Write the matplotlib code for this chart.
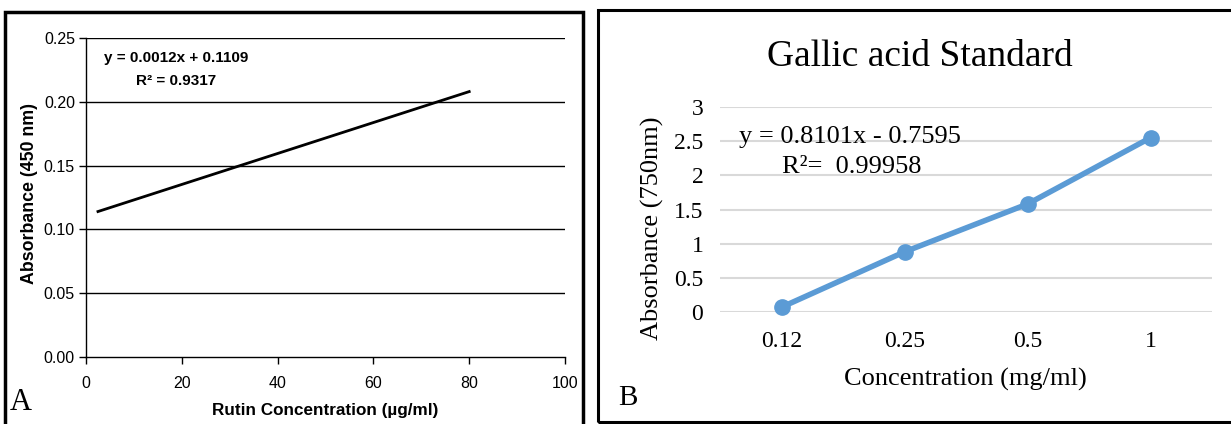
import matplotlib
matplotlib.use("Agg")
import matplotlib.pyplot as plt
from matplotlib.patches import Rectangle

# ---- Panel A data ----
rutin_conc = [2.5, 80]
rutin_abs = [0.114, 0.208]
a_xticks = [0, 20, 40, 60, 80, 100]
a_yticks = [0.00, 0.05, 0.10, 0.15, 0.20, 0.25]
a_eq = "y = 0.0012x + 0.1109"
a_r2 = "R² = 0.9317"

# ---- Panel B data ----
gallic_conc_labels = ["0.12", "0.25", "0.5", "1"]
gallic_abs = [0.07, 0.88, 1.58, 2.55]
b_yticks = [0, 0.5, 1, 1.5, 2, 2.5, 3]
b_ytick_labels = ["0", "0.5", "1", "1.5", "2", "2.5", "3"]
b_eq = "y = 0.8101x - 0.7595"
b_r2 = "R²=  0.99958"

W, H = 1231, 424
fig = plt.figure(figsize=(W / 100, H / 100), dpi=100)

def fx(px):
    return px / W

def fy(py):
    return 1 - py / H

# Borders
fig.patches.append(Rectangle((fx(5), fy(430)), fx(583) - fx(5), fy(12) - fy(430),
                             transform=fig.transFigure, fill=False, lw=2.5, ec='black'))
fig.patches.append(Rectangle((fx(598), fy(422)), fx(1240) - fx(598), fy(10) - fy(422),
                             transform=fig.transFigure, fill=False, lw=2.2, ec='black'))

# ---- Panel A ----
axA = fig.add_axes([fx(86), fy(357), fx(565) - fx(86), fy(38) - fy(357)])
axA.plot(rutin_conc, rutin_abs, color='black', lw=2.0)
axA.set_xlim(0, 100)
axA.set_ylim(0, 0.25)
axA.set_xticks(a_xticks)
axA.set_yticks(a_yticks)
axA.set_yticklabels([f"{v:.2f}" for v in a_yticks])
for v in a_yticks[1:]:
    axA.axhline(v, color='black', lw=1.0, zorder=0)
for s in ['top', 'right']:
    axA.spines[s].set_visible(False)
axA.spines['left'].set_linewidth(1.0)
axA.spines['bottom'].set_linewidth(1.0)
axA.tick_params(direction='out', length=5, width=1.0, labelsize=11.5,
                labelfontfamily='Liberation Sans')
axA.tick_params(axis='x', pad=9)
axA.tick_params(axis='y', pad=3)
axA.set_xlabel("Rutin Concentration (µg/ml)", fontfamily='Liberation Sans',
               fontweight='bold', fontsize=12.3)
axA.xaxis.set_label_coords((325 - 86) / (565 - 86), -(403 - 357) / (357 - 38))
axA.set_ylabel("Absorbance (450 nm)", fontfamily='Liberation Sans',
               fontweight='bold', fontsize=12.8)
axA.yaxis.set_label_coords(-(86 - 38) / (565 - 86), (357 - 194) / (357 - 38))
axA.text(0.0385, 0.937, a_eq, transform=axA.transAxes, fontfamily='Liberation Sans',
         fontweight='bold', fontsize=11, ha='left', va='center')
axA.text(0.104, 0.865, a_r2, transform=axA.transAxes, fontfamily='Liberation Sans',
         fontweight='bold', fontsize=11, ha='left', va='center')
fig.text(fx(10), fy(402), "A", fontfamily='Liberation Serif', fontsize=22,
         ha='left', va='center')

# ---- Panel B ----
axB = fig.add_axes([fx(720), fy(312), fx(1212) - fx(720), fy(107) - fy(312)])
xpos = list(range(len(gallic_conc_labels)))
axB.plot(xpos, gallic_abs, color='#5b9bd5', lw=4, marker='o', markersize=11,
         solid_capstyle='round', zorder=3, clip_on=False)
axB.set_xlim(-0.5, len(gallic_conc_labels) - 0.5)
axB.set_ylim(0, 3)
axB.set_yticks(b_yticks)
axB.set_yticklabels(b_ytick_labels)
axB.set_xticks(xpos)
axB.set_xticklabels(gallic_conc_labels)
axB.grid(axis='y', color='#d9d9d9', lw=1.5)
axB.set_axisbelow(True)
for s in axB.spines.values():
    s.set_visible(False)
axB.tick_params(length=0, labelsize=17, labelfontfamily='Liberation Serif')
axB.tick_params(axis='x', pad=14)
axB.tick_params(axis='y', pad=12)
axB.set_xlabel("Concentration (mg/ml)", fontfamily='Liberation Serif', fontsize=19)
axB.xaxis.set_label_coords((965 - 720) / 492, -(368 - 312) / 205)
axB.set_ylabel("Absorbance (750nm)", fontfamily='Liberation Serif', fontsize=19)
axB.yaxis.set_label_coords(-(720 - 664) / 492, (312 - 228) / 205)
fig.text(fx(920), fy(57), "Gallic acid Standard", fontfamily='Liberation Serif',
         fontsize=27, ha='center', va='center')
fig.text(fx(850), fy(137), b_eq, fontfamily='Liberation Serif', fontsize=19,
         ha='center', va='center')
fig.text(fx(852), fy(167), b_r2, fontfamily='Liberation Serif', fontsize=19,
         ha='center', va='center')
fig.text(fx(618), fy(398), "B", fontfamily='Liberation Serif', fontsize=21,
         ha='left', va='center')

fig.savefig("out.png", dpi=100, facecolor='white')
